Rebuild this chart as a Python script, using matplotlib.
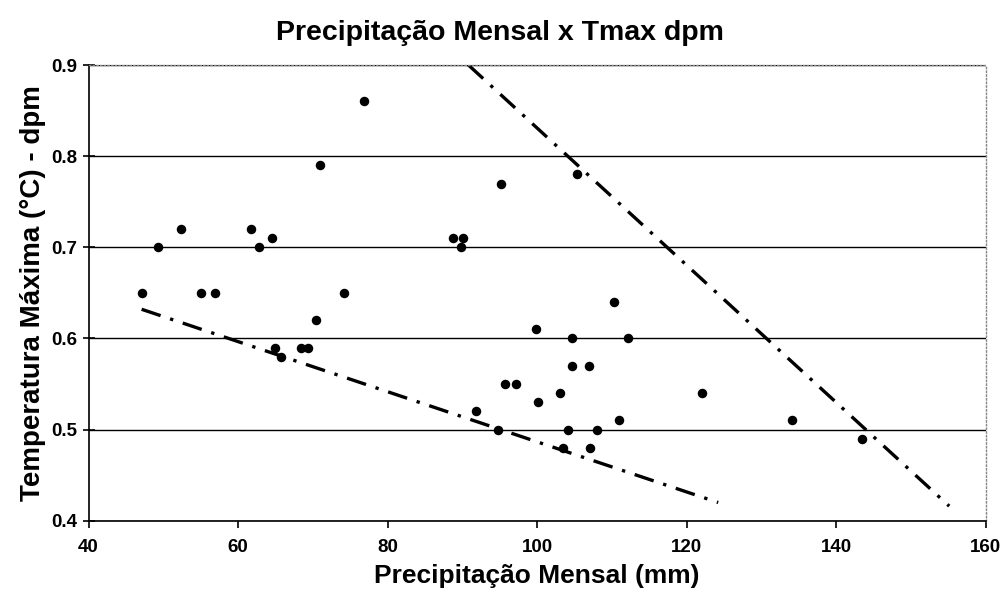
import matplotlib
matplotlib.use("Agg")
import matplotlib.pyplot as plt

plt.rcParams["font.family"] = ["Liberation Sans", "DejaVu Sans"]
plt.rcParams["font.weight"] = "bold"

# monthly precipitation (mm) vs Tmax standard deviation
precip = [76.8, 71.0, 52.3, 61.7, 64.6, 49.3, 62.8, 47.2, 55.0, 56.9,
          74.1, 70.4, 64.9, 68.4, 69.3, 65.7, 95.2, 105.3, 88.8, 90.1,
          89.8, 110.3, 99.8, 104.7, 112.1, 104.7, 106.9, 95.7, 97.2, 103.0,
          100.1, 91.8, 110.9, 94.7, 104.1, 108.0, 103.4, 107.0, 122.1, 134.1,
          143.5]
tmax_dpm = [0.86, 0.79, 0.72, 0.72, 0.71, 0.70, 0.70, 0.65, 0.65, 0.65,
            0.65, 0.62, 0.59, 0.59, 0.59, 0.58, 0.77, 0.78, 0.71, 0.71,
            0.70, 0.64, 0.61, 0.60, 0.60, 0.57, 0.57, 0.55, 0.55, 0.54,
            0.53, 0.52, 0.51, 0.50, 0.50, 0.50, 0.48, 0.48, 0.54, 0.51,
            0.49]

# dash-dot envelope lines
lower_x = [47.1, 124.2]
lower_y = [0.632, 0.420]
upper_x = [90.8, 155.1]
upper_y = [0.900, 0.416]

fig = plt.figure(figsize=(10.06, 6.02), dpi=100)
ax = fig.add_axes([0.088, 0.135, 0.892, 0.757])

ax.scatter(precip, tmax_dpm, s=34, color="black", zorder=3)
ax.plot(lower_x, lower_y, color="black", lw=2.4, dashes=(6, 3, 1, 3), zorder=2)
ax.plot(upper_x, upper_y, color="black", lw=2.4, dashes=(6, 3, 1, 3), zorder=2)

ax.set_xlim(40, 160)
ax.set_ylim(0.4, 0.9)
ax.set_xticks(range(40, 161, 20))
ax.set_yticks([0.4, 0.5, 0.6, 0.7, 0.8, 0.9])
ax.set_yticklabels(["0.4", "0.5", "0.6", "0.7", "0.8", "0.9"])
ax.yaxis.grid(True, color="black", lw=1)
ax.set_axisbelow(True)

for side in ["top", "right"]:
    ax.spines[side].set_color("#888888")
    ax.spines[side].set_linestyle(":")
    ax.spines[side].set_linewidth(1)
for side in ["left", "bottom"]:
    ax.spines[side].set_linewidth(1.2)

ax.tick_params(axis="x", labelsize=13.5, length=5, width=1.2, pad=8)
ax.tick_params(axis="y", labelsize=13.5, length=8, width=1.2, pad=4, direction="inout")
for lbl in ax.get_xticklabels() + ax.get_yticklabels():
    lbl.set_fontweight("bold")

fig.suptitle("Precipitação Mensal x Tmax dpm", x=0.497, y=0.967, va="top",
             fontsize=20.5, fontweight="bold")
ax.set_xlabel("Precipitação Mensal (mm)", fontsize=19, fontweight="bold", labelpad=6)
ax.set_ylabel("Temperatura Máxima (°C) - dpm", fontsize=20, fontweight="bold", labelpad=4)

fig.savefig("out.png", dpi=100)
